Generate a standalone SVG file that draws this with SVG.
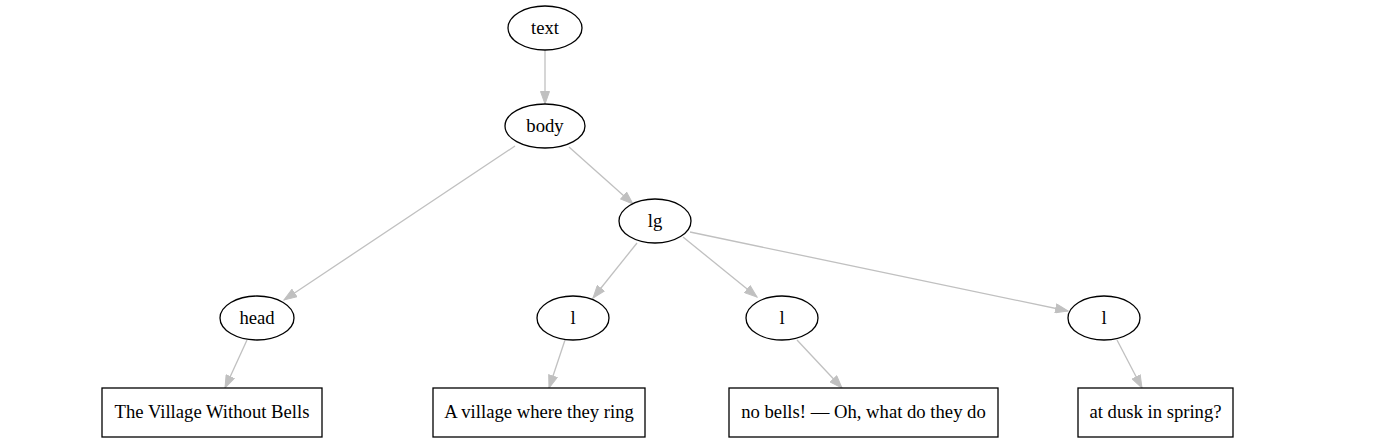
<svg xmlns="http://www.w3.org/2000/svg" width="1376" height="443" viewBox="0 0 1376 443">
<style>
.n ellipse,.n rect{fill:#fff;stroke:#000;stroke-width:1.3}
.n text{font-family:"Liberation Serif","Times New Roman",serif;font-size:18.67px;text-anchor:middle;fill:#000}
.e line{stroke:#c0c0c0;stroke-width:1.3;marker-end:url(#ah)}
</style>
<defs>
<marker id="ah" markerUnits="userSpaceOnUse" markerWidth="14" markerHeight="10" refX="13" refY="5" orient="auto">
<path d="M0.5,0.5 L13,5 L0.5,9.5 z" fill="#c0c0c0" stroke="#c0c0c0"/>
</marker>
</defs>
<rect width="1376" height="443" fill="#fff"/>
<g id="edges" class="e">
<line x1="545" y1="50" x2="545" y2="104"/>
<line x1="515" y1="146" x2="284" y2="300"/>
<line x1="569" y1="147" x2="633" y2="204"/>
<line x1="637" y1="243" x2="593" y2="298"/>
<line x1="683" y1="237" x2="757" y2="297"/>
<line x1="690" y1="232" x2="1068" y2="311"/>
<line x1="247" y1="340" x2="225" y2="388"/>
<line x1="565" y1="340" x2="549" y2="388"/>
<line x1="797" y1="340" x2="842" y2="388"/>
<line x1="1117" y1="340" x2="1142" y2="388"/>
</g>
<g id="text" class="n"><ellipse cx="545" cy="28" rx="37" ry="22"/><text x="545" y="34">text</text></g>
<g id="body" class="n"><ellipse cx="545" cy="126" rx="40" ry="22"/><text x="545" y="132">body</text></g>
<g id="lg" class="n"><ellipse cx="655" cy="221" rx="36" ry="22"/><text x="655" y="227">lg</text></g>
<g id="head" class="n"><ellipse cx="257" cy="318" rx="37" ry="22"/><text x="257" y="324">head</text></g>
<g id="l1" class="n"><ellipse cx="573" cy="318" rx="36" ry="22"/><text x="573" y="324">l</text></g>
<g id="l2" class="n"><ellipse cx="782" cy="318" rx="36" ry="22"/><text x="782" y="324">l</text></g>
<g id="l3" class="n"><ellipse cx="1104" cy="318" rx="36" ry="22"/><text x="1104" y="324">l</text></g>
<g id="t1" class="n"><rect x="102" y="388" width="220" height="49"/><text x="212" y="418">The Village Without Bells</text></g>
<g id="t2" class="n"><rect x="433" y="388" width="212" height="49"/><text x="539" y="418">A village where they ring</text></g>
<g id="t3" class="n"><rect x="729" y="388" width="269" height="49"/><text x="863.5" y="418">no bells! — Oh, what do they do</text></g>
<g id="t4" class="n"><rect x="1078" y="388" width="155" height="49"/><text x="1155.5" y="418">at dusk in spring?</text></g>
</svg>
